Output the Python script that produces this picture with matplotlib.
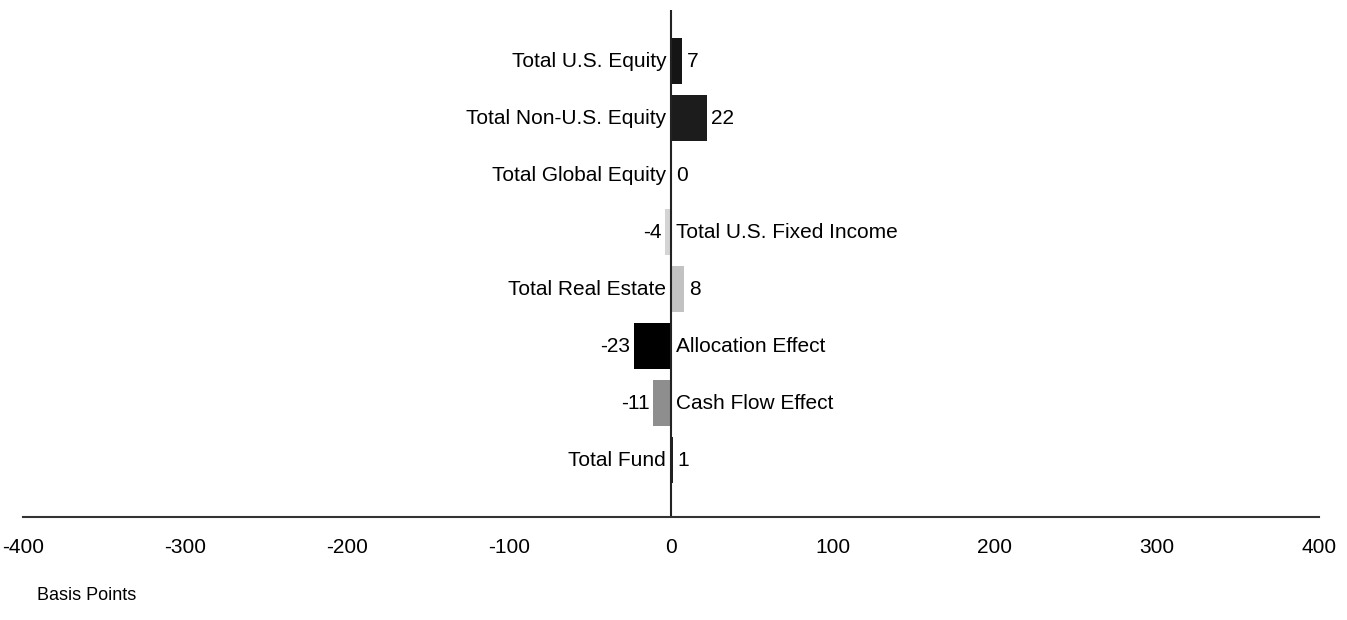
import matplotlib
matplotlib.use("Agg")
import matplotlib.pyplot as plt
import numpy as np

plt.rcParams['font.family'] = ['Liberation Sans Narrow', 'Liberation Sans', 'DejaVu Sans']

categories = ["Total U.S. Equity", "Total Non-U.S. Equity", "Total Global Equity",
              "Total U.S. Fixed Income", "Total Real Estate", "Allocation Effect",
              "Cash Flow Effect", "Total Fund"]
values = [7, 22, 0, -4, 8, -23, -11, 1]
bar_colors = ["#151515", "#1c1c1c", "#202020", "#d4d4d4", "#c2c2c2",
              "#000000", "#8e8e8e", "#202020"]
xticks = [-400, -300, -200, -100, 0, 100, 200, 300, 400]

fig = plt.figure(figsize=(13.47, 6.2), dpi=100)
ax = fig.add_axes([23 / 1347, 103 / 620, 1296 / 1347, 507 / 620])

n = len(categories)
ypos = np.arange(n, 0, -1)
ax.barh(ypos, values, height=0.8, color=bar_colors, edgecolor="none")
ax.axvline(0, color="#222222", lw=1.5)

fs = 15
for y, v, c in zip(ypos, values, categories):
    if v >= 0:
        ax.text(-3, y, c, ha="right", va="center", fontsize=fs)
        ax.text(v + 3, y, f"{v}", ha="left", va="center", fontsize=fs)
    else:
        ax.text(3, y, c, ha="left", va="center", fontsize=fs)
        ax.text(v - 2, y, f"{v}", ha="right", va="center", fontsize=fs)

ax.set_xlim(-400, 400)
ax.set_ylim(0, n + 0.9)
ax.set_xticks(xticks)
ax.set_xticklabels([str(t) for t in xticks], fontsize=fs)
ax.tick_params(axis="x", length=0, pad=15)
ax.set_yticks([])
for s in ["top", "right", "left"]:
    ax.spines[s].set_visible(False)
ax.spines["bottom"].set_color("#333333")
ax.spines["bottom"].set_linewidth(1.5)

fig.text(37 / 1347, 1 - 596 / 620, "Basis Points", fontsize=13, va="center", ha="left")

fig.savefig("out.png", dpi=100)
